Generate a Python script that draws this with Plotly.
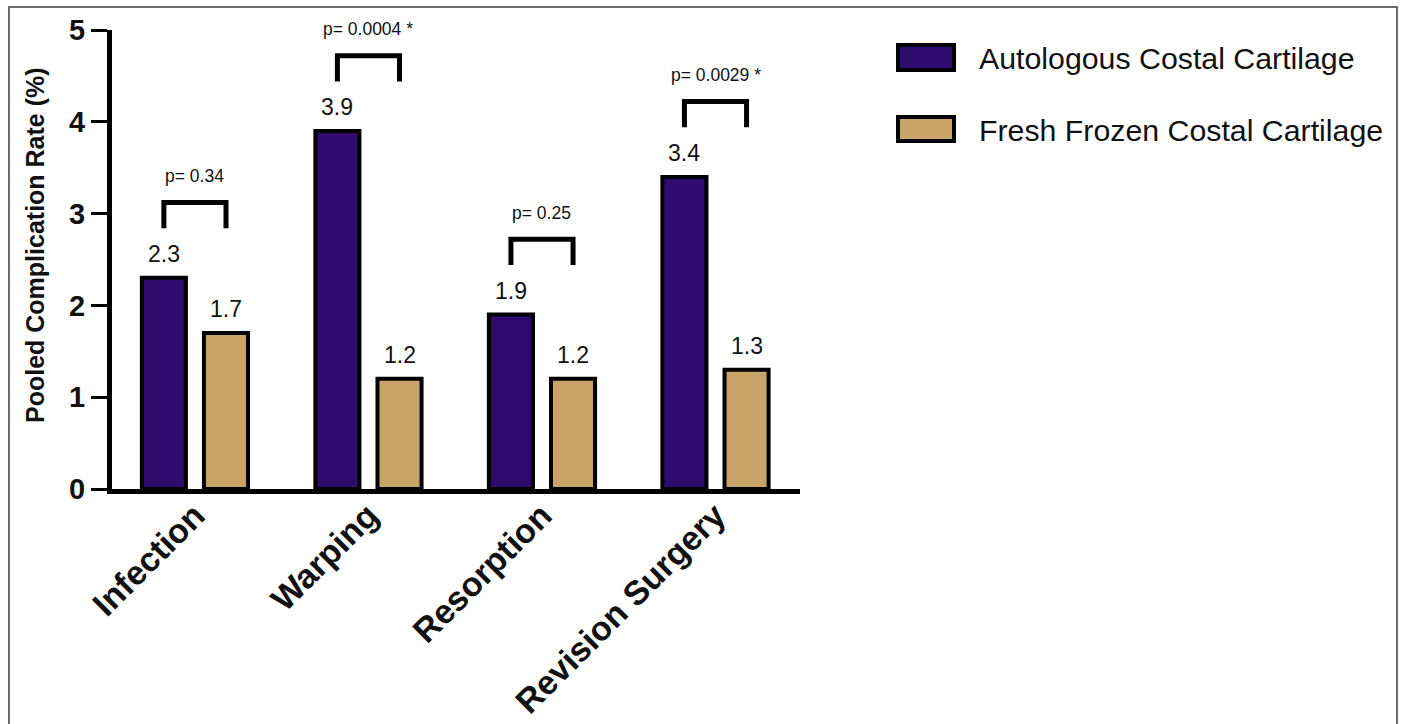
import plotly.graph_objects as go

categories = ["Infection", "Warping", "Resorption", "Revision Surgery"]
autologous = [2.3, 3.9, 1.9, 3.4]
fresh_frozen = [1.7, 1.2, 1.2, 1.3]
p_labels = ["p= 0.34", "p= 0.0004 *", "p= 0.25", "p= 0.0029 *"]
series_names = ["Autologous Costal Cartilage", "Fresh Frozen Costal Cartilage"]
y_ticks = [0, 1, 2, 3, 4, 5]
y_title = "Pooled Complication Rate (%)"

PURPLE = "#2d0c6e"
TAN = "#c9a468"
BAR_W = 0.254
OFF_A = -0.306
OFF_F = 0.052
FONT = "Liberation Sans, Arial"
Y_MIN, Y_MAX = y_ticks[0], y_ticks[-1]

xs = list(range(len(categories)))
fig = go.Figure()

fig.add_trace(go.Bar(x=xs, y=autologous, width=BAR_W, offset=OFF_A,
                     marker=dict(color=PURPLE, line=dict(color="black", width=4)),
                     name=series_names[0], showlegend=False))
fig.add_trace(go.Bar(x=xs, y=fresh_frozen, width=BAR_W, offset=OFF_F,
                     marker=dict(color=TAN, line=dict(color="black", width=4)),
                     name=series_names[1], showlegend=False))

annotations = []
# value labels
for i, (a, f) in enumerate(zip(autologous, fresh_frozen)):
    for v, off in ((a, OFF_A), (f, OFF_F)):
        annotations.append(dict(x=i + off + BAR_W / 2, y=v, xref="x", yref="y",
                                text=f"{v:.1f}", showarrow=False, yshift=24,
                                yanchor="middle",
                                font=dict(family=FONT, size=23, color="#111")))

# significance brackets
for i, (a, f) in enumerate(zip(autologous, fresh_frozen)):
    top = max(a, f) + 0.82
    x0 = i + OFF_A + BAR_W / 2
    x1 = i + OFF_F + BAR_W / 2
    fig.add_trace(go.Scatter(x=[x0, x0, x1, x1], y=[top - 0.28, top, top, top - 0.28],
                             mode="lines", line=dict(color="black", width=5),
                             showlegend=False, hoverinfo="skip", cliponaxis=False))
    # p-value text (paper y so that it may sit above the axis maximum)
    annotations.append(dict(x=i + (OFF_A + OFF_F + BAR_W) / 2,
                            y=(top + 0.29 - Y_MIN) / (Y_MAX - Y_MIN), xref="x", yref="paper",
                            yanchor="middle", xanchor="center",
                            text=p_labels[i], showarrow=False,
                            font=dict(family=FONT, size=17.5, color="#111")))

# pixel -> paper helpers (plot area 112..800 x 30..489)
PL, PW, PT, PH = 112, 688, 30, 459
def px2x(p):
    return (p - PL) / PW
def py2y(p):
    return (PT + PH - p) / PH

# y-axis title
annotations.append(dict(x=px2x(35), y=py2y(245), xref="paper", yref="paper",
                        text=y_title, textangle=-90, showarrow=False,
                        xanchor="center", yanchor="middle",
                        font=dict(family=FONT, size=25, color="#111", weight="bold")))

# custom legend
shapes = []
for k, (col, y0p, y1p, ycp) in enumerate(((PURPLE, 45, 70, 58), (TAN, 117, 141, 130))):
    shapes.append(dict(type="rect", xref="paper", yref="paper",
                       x0=px2x(898), x1=px2x(954), y0=py2y(y1p), y1=py2y(y0p),
                       fillcolor=col, line=dict(color="black", width=4)))
    annotations.append(dict(x=px2x(977), y=py2y(ycp), xref="paper", yref="paper",
                            xanchor="left", yanchor="middle", text=series_names[k],
                            showarrow=False,
                            font=dict(family=FONT, size=30.3, color="#111")))

# frame
shapes.append(dict(type="rect", xref="paper", yref="paper",
                   x0=px2x(9), x1=px2x(1397), y0=py2y(740), y1=py2y(7),
                   line=dict(color="#6a6a6a", width=2), fillcolor="rgba(0,0,0,0)", layer="below"))

fig.update_layout(
    width=1402, height=724,
    margin=dict(l=112, r=1402 - 800, t=30, b=724 - 489, pad=0, autoexpand=False),
    paper_bgcolor="white", plot_bgcolor="white",
    annotations=annotations, shapes=shapes,
    xaxis=dict(range=[-0.478, 3.487], tickmode="array", tickvals=xs, ticktext=categories,
               tickangle=-45, ticks="", showgrid=False, zeroline=False, automargin=False,
               showline=True, linecolor="black", linewidth=5, ticklabelstandoff=-12,
               tickfont=dict(family=FONT, size=34, color="#111", weight="bold"),
               ),
    yaxis=dict(range=[Y_MIN, Y_MAX], tickvals=y_ticks, ticks="outside", ticklen=16, tickwidth=3,
               tickcolor="black", showgrid=False, zeroline=False, automargin=False,
               showline=True, linecolor="black", linewidth=5,
               tickfont=dict(family=FONT, size=29, color="#111", weight="bold")),
    font=dict(family=FONT),
)

fig.write_html("out.html", config={"displayModeBar": False},
               post_script="document.body.style.margin='0px';document.body.style.overflow='hidden';")
